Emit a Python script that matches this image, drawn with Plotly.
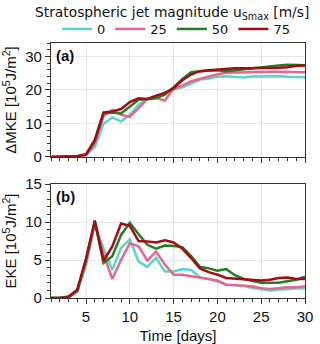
import plotly.graph_objects as go
from plotly.subplots import make_subplots

days = list(range(1, 31))
jet_labels = ["0", "25", "50", "75"]
colors = ["#5cd3c6", "#e5668f", "#247d24", "#a30d12"]

# (a) mean kinetic energy change [10^5 J/m^2]
mke_0 = [0, 0, 0, 0.2, 0.6, 3.0, 9.9, 11.8, 10.6, 12.6, 15.6, 17.3, 17.6, 19.1, 20.2,
         20.8, 21.9, 23.1, 23.4, 23.9, 24.1, 23.8, 23.7, 24.0, 24.1, 24.1, 24.1, 23.9, 23.9, 23.8]
mke_25 = [0, 0, 0, 0.2, 0.6, 4.0, 12.3, 14.0, 12.6, 12.0, 14.6, 17.3, 17.6, 16.8, 20.4,
          21.3, 22.6, 23.3, 23.9, 24.7, 25.1, 25.2, 25.3, 25.3, 25.3, 25.4, 25.4, 25.4, 25.4, 25.3]
mke_50 = [0, 0, 0, 0.2, 0.7, 4.8, 13.0, 13.3, 13.0, 15.0, 17.1, 17.2, 17.6, 18.6, 20.8,
          23.3, 25.3, 25.6, 25.8, 25.9, 25.6, 25.9, 26.3, 26.6, 26.9, 27.1, 27.3, 27.5, 27.5, 27.4]
mke_75 = [0, 0, 0, 0.2, 0.8, 5.1, 13.3, 13.6, 14.3, 16.4, 17.5, 17.3, 18.3, 19.1, 20.5,
          22.9, 24.6, 25.6, 25.9, 26.1, 26.4, 26.5, 26.5, 26.5, 26.6, 26.6, 26.6, 26.8, 27.2, 27.3]

# (b) eddy kinetic energy [10^5 J/m^2]
eke_0 = [0, 0, 0.1, 0.8, 4.3, 9.6, 6.5, 3.7, 6.6, 7.7, 4.8, 4.1, 5.3, 3.5, 3.5,
         3.8, 3.7, 2.7, 2.5, 2.2, 1.75, 1.7, 1.6, 1.3, 1.1, 1.0, 1.1, 1.2, 1.25, 1.3]
eke_25 = [0, 0, 0.1, 0.9, 4.8, 9.8, 5.7, 2.5, 5.0, 7.2, 6.8, 4.95, 6.1, 4.4, 3.07,
          3.07, 2.85, 2.7, 2.5, 2.3, 1.75, 1.7, 1.6, 1.5, 1.3, 1.2, 1.3, 1.4, 1.4, 1.55]
eke_50 = [0, 0, 0.1, 1.0, 5.0, 10.1, 4.6, 5.5, 8.3, 9.9, 8.4, 7.0, 6.5, 6.9, 6.85,
          6.7, 5.5, 4.1, 3.9, 3.6, 3.8, 3.0, 2.5, 2.2, 2.0, 2.0, 2.0, 2.2, 2.4, 2.8]
eke_75 = [0, 0, 0.2, 1.1, 5.2, 10.2, 4.9, 6.8, 9.8, 9.5, 7.5, 7.45, 7.3, 7.6, 7.3,
          6.5, 5.26, 3.9, 3.4, 3.07, 2.63, 2.55, 2.5, 2.4, 2.3, 2.4, 2.63, 2.7, 2.5, 2.5]

mke = [mke_0, mke_25, mke_50, mke_75]
eke = [eke_0, eke_25, eke_50, eke_75]

fig = make_subplots(rows=2, cols=1, vertical_spacing=0.106)

for i in range(4):
    fig.add_trace(go.Scatter(x=days, y=mke[i], mode="lines", name=jet_labels[i],
                             line=dict(color=colors[i], width=2.5), legendgroup=jet_labels[i]),
                  row=1, col=1)
    fig.add_trace(go.Scatter(x=days, y=eke[i], mode="lines", name=jet_labels[i],
                             line=dict(color=colors[i], width=2.5), legendgroup=jet_labels[i],
                             showlegend=False),
                  row=2, col=1)

font_ax = dict(family="Liberation Sans, Arial", size=15, color="#111111")
font_leg = dict(family="DejaVu Sans", size=13, color="#111111")
axis_style = dict(showline=True, linecolor="#333333", linewidth=1.2, mirror=True,
                  showgrid=True, gridcolor="#e6e6e6", gridwidth=1, zeroline=False,
                  ticks="outside", ticklen=5, tickcolor="#333333", tickfont=font_ax)

fig.update_xaxes(range=[1, 30], tickvals=[5, 10, 15, 20, 25, 30],
                 minor=dict(dtick=1, tick0=0, ticks="outside", ticklen=3, tickcolor="#333333", showgrid=False),
                 **axis_style)
fig.update_xaxes(showticklabels=False, row=1, col=1)
fig.update_xaxes(title=dict(text="Time [days]", standoff=11, font=font_ax), row=2, col=1)

fig.update_yaxes(**axis_style)
fig.update_yaxes(range=[0, 34], tickvals=[0, 10, 20, 30],
                 minor=dict(dtick=2, tick0=0, ticks="outside", ticklen=3, tickcolor="#333333", showgrid=False),
                 title=dict(text="ΔMKE [10<sup>5</sup>J/m<sup>2</sup>]", standoff=5, font=font_ax),
                 row=1, col=1)
fig.update_yaxes(range=[0, 15], tickvals=[0, 5, 10, 15],
                 minor=dict(dtick=1, tick0=0, ticks="outside", ticklen=3, tickcolor="#333333", showgrid=False),
                 title=dict(text="EKE [10<sup>5</sup>J/m<sup>2</sup>]", standoff=5, font=font_ax),
                 row=2, col=1)

fig.add_annotation(text="<b>(a)</b>", x=0.01, y=0.985, xref="x domain", yref="y domain",
                   xanchor="left", yanchor="top", showarrow=False, font=font_ax)
fig.add_annotation(text="<b>(b)</b>", x=0.01, y=0.985, xref="x2 domain", yref="y2 domain",
                   xanchor="left", yanchor="top", showarrow=False, font=font_ax)

# legend title drawn as a centred annotation above the legend entries
fig.add_annotation(text="Stratospheric jet magnitude u<sub>Smax</sub> [m/s]",
                   x=(172 - 51) / 254, y=1 + (43 - 13) / 255, xref="paper", yref="paper",
                   xanchor="center", yanchor="middle", showarrow=False,
                   font=dict(family="DejaVu Sans", size=13.8, color="#111111"))

fig.update_layout(
    width=320, height=344,
    margin=dict(l=51, r=15, t=43, b=46, autoexpand=False),
    plot_bgcolor="white", paper_bgcolor="white",
    legend=dict(orientation="h", x=(176 - 51) / 254, xanchor="center",
                y=1 + (43 - 29) / 255, yanchor="middle",
                font=font_leg, itemwidth=30, tracegroupgap=0, bgcolor="rgba(0,0,0,0)"),
)

fig.write_html("out.html", config={"displayModeBar": False},
               post_script="document.body.style.margin='0px';")
